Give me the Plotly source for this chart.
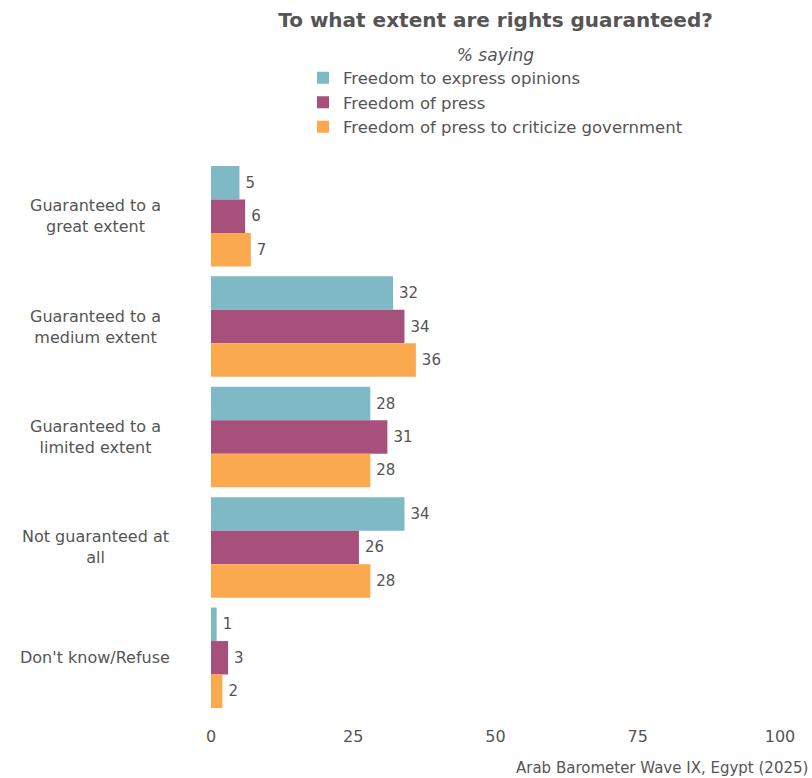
import plotly.graph_objects as go

categories = [
    "Guaranteed to a<br>great extent",
    "Guaranteed to a<br>medium extent",
    "Guaranteed to a<br>limited extent",
    "Not guaranteed at<br>all",
    "Don't know/Refuse",
]
series_names = [
    "Freedom to express opinions",
    "Freedom of press",
    "Freedom of press to criticize government",
]
express_opinions = [5, 32, 28, 34, 1]
press = [6, 34, 31, 26, 3]
press_criticize = [7, 36, 28, 28, 2]
x_ticks = [0, 25, 50, 75, 100]

colors = ["#7fb9c6", "#a8507c", "#fba94f"]
font_family = "DejaVu Sans"
text_gray = "#555555"

fig = go.Figure()
for name, vals, col in zip(series_names, [express_opinions, press, press_criticize], colors):
    fig.add_trace(go.Bar(
        y=categories, x=vals, name=name, orientation="h",
        marker=dict(color=col, line=dict(width=0)),
        text=["\u2009" + str(v) for v in vals], textposition="outside",
        textfont=dict(size=15, color=text_gray, family=font_family),
        cliponaxis=False,
    ))

# centred category labels to the left of the bars
cat_labels = [
    dict(text=c, xref="paper", yref="y", x=(95 - 211) / 569, y=c,
         xanchor="center", yanchor="middle", align="center", showarrow=False,
         font=dict(size=16, color=text_gray, family=font_family))
    for c in categories
]

fig.update_layout(
    width=812, height=778,
    margin=dict(l=211, r=32, t=161, b=65),
    barmode="group", bargap=0.09, bargroupgap=0,
    plot_bgcolor="white", paper_bgcolor="white",
    font=dict(family=font_family, color=text_gray, size=15),
    title=dict(
        text="<b>To what extent are rights guaranteed?</b>",
        x=0.5, xref="paper", xanchor="center",
        y=1 - 20 / 778, yref="container", yanchor="middle",
        font=dict(size=20, color=text_gray, family=font_family),
    ),
    legend=dict(
        title=dict(text="<i>% saying</i>", side="top center",
                   font=dict(size=17, color=text_gray, family=font_family)),
        orientation="v", x=0.5, xanchor="center", y=1.03, yanchor="bottom",
        font=dict(size=16.5, color=text_gray, family=font_family),
        traceorder="normal", itemsizing="constant", tracegroupgap=0,
        itemwidth=30,
        bgcolor="rgba(0,0,0,0)",
    ),
    xaxis=dict(
        range=[0, 100], tickvals=x_ticks, ticktext=[str(t) for t in x_ticks],
        showgrid=False, zeroline=False, showline=False, ticks="",
        ticklabelstandoff=12,
        tickfont=dict(size=16, color=text_gray, family=font_family),
    ),
    yaxis=dict(
        autorange="reversed", showgrid=False, zeroline=False, showline=False,
        ticks="", showticklabels=False,
    ),
    annotations=cat_labels + [dict(
        text="Arab Barometer Wave IX, Egypt (2025)", xref="paper", yref="paper",
        x=1 + 30 / 569, y=-(768 - 713) / 550, xanchor="right", yanchor="middle",
        showarrow=False, font=dict(size=15, color=text_gray, family=font_family),
    )],
)

fig.write_html("out.html")
